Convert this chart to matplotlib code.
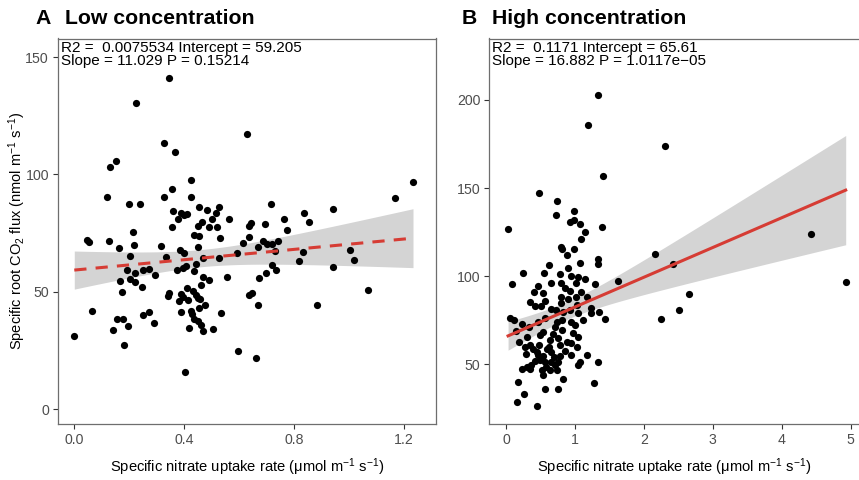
import numpy as np
import matplotlib
matplotlib.use("Agg")
import matplotlib.pyplot as plt

plt.rcParams['font.family'] = ['Liberation Sans', 'DejaVu Sans']
plt.rcParams['mathtext.default'] = 'regular'

# ---- data ----
# Panel A: low concentration
low_x = [0.346, 0.226, 0.630, 0.325, 0.365, 0.153, 0.129, 0.424, 0.355, 0.118,
         0.327, 0.426, 0.200, 0.240, 0.454, 0.528, 0.359, 0.483, 0.388, 0.409,
         0.516, 0.400, 0.377, 0.500, 0.564, 0.465, 0.449, 0.356, 0.491, 0.518,
         0.635, 0.214, 0.436, 0.454, 0.529, 0.637, 0.046, 0.054, 0.127, 0.216,
         0.163, 0.315, 0.450, 0.615, 0.385, 0.400, 0.593, 0.204, 0.334, 0.470,
         0.528, 0.192, 0.220, 0.249, 0.272, 0.294, 0.374, 0.397, 0.407, 0.442,
         0.436, 0.167, 0.203, 0.220, 0.467, 0.489, 0.556, 0.245, 0.461, 0.175,
         0.410, 0.433, 0.346, 0.342, 0.387, 0.396, 0.442, 0.451, 0.382, 0.414,
         0.459, 0.636, 0.455, 0.476, 0.064, 0.251, 0.273, 0.387, 0.426, 0.430,
         0.533, 0.155, 0.177, 0.437, 0.449, 0.290, 0.461, 0.197, 0.418, 0.142,
         0.467, 0.506, 0.000, 0.180, 0.595, 0.402, 1.233, 1.167, 0.715, 0.942,
         0.835, 0.764, 0.855, 0.644, 0.693, 0.775, 0.687, 0.743, 0.700, 0.719,
         0.668, 0.730, 0.831, 1.005, 0.817, 1.017, 0.721, 0.734, 0.697, 0.673,
         0.941, 1.070, 0.646, 0.668, 0.885, 0.661]
low_y = [141.1, 130.6, 117.2, 113.3, 109.7, 105.7, 103.2, 97.5, 93.9, 90.5,
         90.5, 90.4, 87.3, 87.5, 86.2, 86.2, 84.4, 84.7, 83.7, 83.1,
         83.7, 82.7, 80.9, 80.9, 81.1, 79.6, 78.1, 77.5, 77.7, 77.7,
         78.0, 75.4, 74.0, 73.7, 73.0, 73.4, 72.0, 71.2, 71.7, 69.9,
         68.8, 69.5, 68.9, 70.6, 67.8, 66.4, 66.6, 65.3, 64.9, 64.2,
         64.2, 59.3, 58.1, 59.3, 59.8, 57.2, 59.4, 60.0, 61.0, 61.8,
         58.7, 54.7, 55.3, 54.3, 56.4, 54.9, 56.4, 51.9, 52.9, 49.9,
         51.5, 50.4, 49.6, 48.3, 49.0, 47.6, 48.7, 47.2, 46.0, 46.5,
         46.8, 48.6, 42.9, 44.2, 41.6, 40.2, 41.3, 41.2, 41.8, 40.6,
         40.9, 38.5, 38.5, 38.5, 37.6, 36.7, 35.9, 35.3, 34.5, 33.7,
         33.2, 34.0, 31.2, 27.3, 24.7, 15.8, 96.8, 89.9, 87.4, 85.1,
         83.7, 81.0, 79.8, 79.4, 78.9, 76.4, 71.5, 71.6, 70.3, 70.2,
         69.2, 67.2, 66.9, 67.9, 63.2, 63.6, 61.4, 59.3, 58.1, 55.7,
         60.5, 50.9, 49.4, 44.2, 44.5, 21.6]

# Panel B: high concentration
high_x = [1.33, 1.19, 1.41, 0.48, 0.74, 0.99, 0.73, 0.93, 0.99, 1.08, 1.14, 1.39,
          0.03, 1.09, 0.80, 0.81, 0.89, 0.99, 1.33, 1.33, 2.16, 0.63, 1.08, 0.25,
          0.55, 0.90, 0.78, 1.05, 1.14, 0.09, 0.47, 0.65, 0.80, 1.02, 1.29, 1.63,
          0.40, 0.53, 0.86, 0.93, 1.09, 0.35, 0.42, 0.51, 0.80, 0.80, 0.90, 1.02,
          1.17, 1.03, 0.65, 0.72, 0.83, 0.93, 1.05, 1.24, 1.24, 1.35, 1.44, 0.06,
          0.11, 0.23, 0.46, 0.57, 0.74, 0.81, 0.95, 1.00, 2.25, 0.34, 0.71, 0.81,
          0.54, 0.19, 0.31, 0.49, 0.64, 0.76, 0.89, 1.05, 0.35, 0.48, 0.62, 0.78,
          0.94, 1.03, 0.39, 0.45, 0.66, 0.29, 0.47, 0.54, 0.69, 0.78, 0.94, 1.18,
          0.49, 0.57, 0.65, 0.76, 1.07, 1.33, 0.37, 0.30, 0.58, 0.71, 0.23, 0.35,
          0.52, 0.64, 0.74, 1.04, 0.54, 0.82, 0.18, 1.28, 0.57, 0.76, 0.26, 0.16,
          0.45, 2.31, 2.42, 2.66, 2.51, 4.43, 4.93, 0.60, 0.42, 0.85, 0.68, 0.97,
          0.27, 0.57, 0.95, 0.15, 1.12]
high_y = [202.8, 185.6, 157.0, 147.0, 142.7, 137.2, 134.6, 130.6, 131.7, 129.5, 125.1, 127.8,
          126.6, 121.0, 116.7, 115.3, 112.0, 115.6, 109.6, 106.9, 112.8, 106.4, 107.3, 102.0,
          101.6, 104.5, 101.2, 99.7, 98.2, 95.6, 94.4, 96.0, 96.0, 96.0, 95.6, 97.1,
          90.9, 90.6, 93.1, 91.8, 91.2, 85.5, 83.1, 83.3, 88.4, 84.6, 86.9, 88.4,
          88.4, 83.7, 81.2, 80.8, 79.9, 80.8, 79.3, 81.8, 78.9, 79.9, 75.5, 76.4,
          75.1, 72.7, 74.2, 76.1, 74.2, 75.1, 74.2, 72.3, 75.7, 71.0, 71.3, 69.5,
          68.5, 62.8, 65.7, 66.6, 63.8, 64.8, 62.8, 65.7, 61.0, 61.0, 60.0, 61.0,
          62.3, 59.6, 58.5, 57.2, 57.2, 55.8, 55.3, 54.7, 54.3, 54.7, 55.3, 55.1,
          52.4, 51.5, 51.5, 51.5, 51.1, 51.3, 49.6, 48.6, 48.6, 49.6, 47.2, 47.2,
          46.8, 46.8, 46.8, 49.6, 43.9, 41.7, 40.1, 39.6, 36.0, 36.0, 33.0, 28.8,
          26.5, 174.1, 106.9, 89.7, 81.0, 124.0, 96.5, 58.5, 52.0, 57.5, 67.0, 68.0,
          60.0, 86.0, 100.0, 69.0, 75.0]

# fit results printed on the panels
low_fit = {'r2': '0.0075534', 'intercept': 59.205, 'slope': 11.029, 'p': '0.15214'}
high_fit = {'r2': '0.1171', 'intercept': 65.61, 'slope': 16.882, 'p': '1.0117e\u221205'}

low_xticks = [0.0, 0.4, 0.8, 1.2]
low_xticklabels = ['0.0', '0.4', '0.8', '1.2']
low_yticks = [0, 50, 100, 150]
high_xticks = [0, 1, 2, 3, 4, 5]
high_yticks = [50, 100, 150, 200]

RED = '#d63c34'
BAND = '#d4d4d4'
EDGE = '#6e6e6e'
TICKTXT = '#4d4d4d'


def draw_panel(ax, xs, ys, fit, dashed):
    xs = np.asarray(xs)
    ys = np.asarray(ys)
    a, b = fit['intercept'], fit['slope']
    # confidence band around the fitted line
    n = len(xs)
    resid = ys - (a + b * xs)
    s = np.sqrt(np.sum(resid ** 2) / (n - 2))
    sxx = np.sum((xs - xs.mean()) ** 2)
    xg = np.linspace(xs.min(), xs.max(), 100)
    yg = a + b * xg
    se = s * np.sqrt(1.0 / n + (xg - xs.mean()) ** 2 / sxx)
    t = 1.976
    ax.fill_between(xg, yg - t * se, yg + t * se, color=BAND, lw=0, zorder=1)
    ax.scatter(xs, ys, s=27, color='black', lw=0, zorder=2)
    ax.plot(xg, yg, color=RED, lw=2.2, ls=(0, (4, 3)) if dashed else '-', zorder=3)
    ax.text(0.008, 0.993,
            'R2 =  %s Intercept = %s\nSlope = %s P = %s'
            % (fit['r2'], fit['intercept'], fit['slope'], fit['p']),
            transform=ax.transAxes, ha='left', va='top', fontsize=11,
            linespacing=0.92, color='black')
    for sp in ax.spines.values():
        sp.set_color(EDGE)
        sp.set_linewidth(0.9)
    ax.tick_params(colors='#333333', labelcolor=TICKTXT, labelsize=10.2,
                   length=3.5, width=0.8, pad=3)
    ax.set_xlabel('Specific nitrate uptake rate (\u03bcmol m$^{-1}$ s$^{-1}$)',
                  fontsize=10.6, labelpad=7)


fig = plt.figure(figsize=(8.59, 4.8), dpi=100)
W, H = 859.0, 480.0
top, bottom = 38.5, 424.0

axA = fig.add_axes([58 / W, 1 - bottom / H, (436 - 58) / W, (bottom - top) / H])
draw_panel(axA, low_x, low_y, low_fit, dashed=True)
axA.set_xlim(-0.0593, 1.3167)
axA.set_ylim(-6.39, 157.9)
axA.set_xticks(low_xticks)
axA.set_xticklabels(low_xticklabels)
axA.set_yticks(low_yticks)
axA.set_ylabel('Specific root CO$_2$ flux (nmol m$^{-1}$ s$^{-1}$)', fontsize=10.5)
axA.yaxis.set_label_coords(-0.08, 0.5)

axB = fig.add_axes([489.3 / W, 1 - bottom / H, (W - 489.3) / W, (bottom - top) / H])
draw_panel(axB, high_x, high_y, high_fit, dashed=False)
axB.set_xlim(-0.2424, 5.123)
axB.set_ylim(16.1, 234.9)
axB.set_xticks(high_xticks)
axB.set_yticks(high_yticks)
axB.spines['right'].set_visible(False)

# panel titles
ty = 1 - 18.5 / H
fig.text(35 / W, ty, 'A', fontsize=15.3, fontweight='bold', va='center')
fig.text(65 / W, ty, 'Low concentration', fontsize=15.3, fontweight='bold', va='center')
fig.text(462 / W, ty, 'B', fontsize=15.3, fontweight='bold', va='center')
fig.text(492 / W, ty, 'High concentration', fontsize=15.3, fontweight='bold', va='center')

fig.savefig('out.png', dpi=100)
